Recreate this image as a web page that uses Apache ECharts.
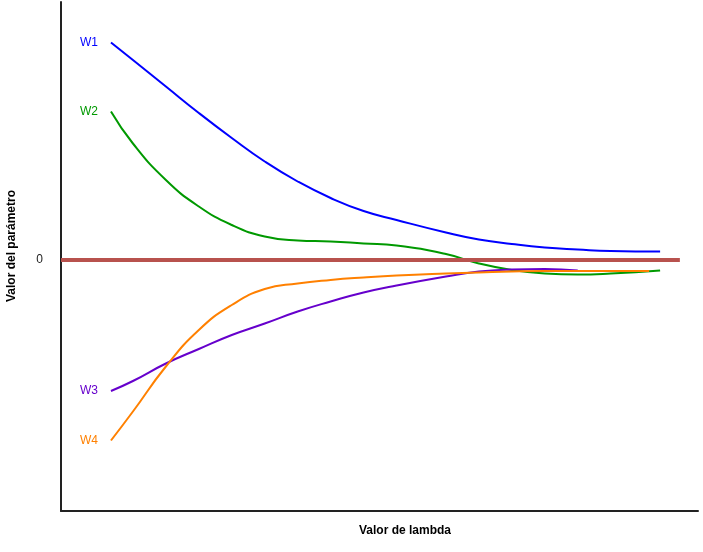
<!DOCTYPE html>
<html>
<head>
<meta charset="utf-8">
<script src="https://cdn.jsdelivr.net/npm/echarts@6/dist/echarts.min.js"></script>
<style>
  html, body { margin: 0; padding: 0; background: #fff; }
  #chart { width: 703px; height: 552px; }
</style>
</head>
<body>
<div id="chart"></div>
<script>
// valores de lambda (eje x)
const lambdas = [0, 0.4, 1, 1.6, 2.2, 2.8, 3.4, 4, 4.6, 5.2, 6.1, 6.7, 7.3, 7.9, 8.5, 9.1, 10];
const lambdasW4 = [0, 0.4, 1, 1.6, 2.2, 2.8, 3.4, 4, 4.6, 5.2, 6.1, 6.7, 7.3, 7.9, 8.5, 9.1, 9.8];

// valores de los parámetros
const w1 = [4.35, 4.0, 3.47, 2.94, 2.44, 1.97, 1.57, 1.24, 0.98, 0.8, 0.55, 0.41, 0.32, 0.25, 0.21, 0.18, 0.17];
const w2 = [2.97, 2.33, 1.6, 1.07, 0.7, 0.47, 0.39, 0.37, 0.33, 0.29, 0.12, -0.07, -0.2, -0.27, -0.29, -0.27, -0.21];
const w3 = [-2.62, -2.42, -2.07, -1.78, -1.5, -1.27, -1.03, -0.83, -0.65, -0.51, -0.33, -0.23, -0.19, -0.18, -0.21];
const w4 = [-3.61, -3.03, -2.13, -1.4, -0.9, -0.58, -0.47, -0.4, -0.35, -0.31, -0.27, -0.25, -0.23, -0.22, -0.22, -0.22, -0.22];

// línea del cero
const zeroLine = [[-0.91, 0], [10.36, 0]];
const yTicks = [0];

const names = ["W1", "W2", "W3", "W4"];
const colors = ["#0000ff", "#009900", "#6600cc", "#ff8000"];

const myChart = echarts.init(document.getElementById("chart"));

// arma la serie con la etiqueta al inicio
const makeSeries = (name, color, xs, ys) => ({
  name: name,
  type: "line",
  smooth: 0.5,
  symbol: "circle",
  symbolSize: 0,
  showSymbol: true,
  showAllSymbol: true,
  lineStyle: { color: color, width: 2 },
  itemStyle: { color: color },
  z: 2,
  data: ys.map((y, i) => {
    const item = { value: [xs[i], y] };
    if (i === 0) {
      item.label = {
        show: true,
        position: "left",
        distance: 13,
        formatter: name,
        color: color,
        fontSize: 12,
        fontFamily: "Liberation Sans, Arial, sans-serif",
      };
    }
    return item;
  }),
});

const option = {
  animation: false,
  grid: { left: 61, right: 5, top: 2, bottom: 41, outerBoundsMode: "none" },
  xAxis: {
    type: "value",
    min: -0.91,
    max: 10.69,
    name: "Valor de lambda",
    nameLocation: "middle",
    nameGap: 14,
    nameTextStyle: {
      color: "#000",
      fontWeight: "bold",
      fontSize: 12,
      fontFamily: "Liberation Sans, Arial, sans-serif",
      padding: [0, 0, 0, 51],
    },
    axisLine: { show: true, onZero: false, lineStyle: { color: "#222", width: 2 } },
    axisTick: { show: false },
    axisLabel: { show: false },
    splitLine: { show: false },
  },
  yAxis: {
    type: "value",
    min: -5.02,
    max: 5.16,
    name: "Valor del parámetro",
    nameLocation: "middle",
    nameGap: 43,
    nameRotate: 90,
    nameTextStyle: {
      color: "#000",
      fontWeight: "bold",
      fontSize: 12,
      fontFamily: "Liberation Sans, Arial, sans-serif",
      padding: [0, 0, 0, 21],
    },
    axisLine: { show: true, onZero: false, lineStyle: { color: "#222", width: 2 } },
    axisTick: { show: false },
    axisLabel: {
      show: true,
      customValues: yTicks,
      margin: 18,
      color: "#222",
      fontSize: 12,
      fontFamily: "Liberation Sans, Arial, sans-serif",
    },
    splitLine: { show: false },
  },
  series: [
    makeSeries(names[0], colors[0], lambdas, w1),
    makeSeries(names[1], colors[1], lambdas, w2),
    makeSeries(names[2], colors[2], lambdas, w3),
    makeSeries(names[3], colors[3], lambdasW4, w4),
    {
      name: "cero",
      type: "line",
      symbol: "none",
      lineStyle: { color: "#b8524e", width: 4 },
      z: 3,
      data: zeroLine,
    },
  ],
};

myChart.setOption(option);
</script>
</body>
</html>
